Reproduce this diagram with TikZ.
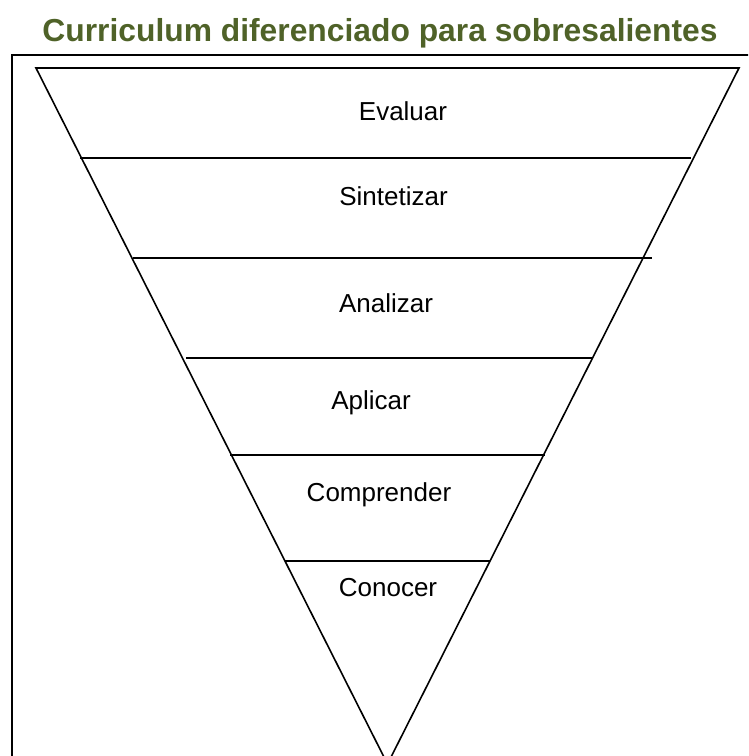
\documentclass[tikz,border=0pt]{standalone}
\usepackage{fontspec}
\setmainfont{Liberation Sans}
\usetikzlibrary{calc}
\definecolor{titlegreen}{RGB}{79,98,40}
\tikzstyle{level}=[anchor=base, inner sep=0pt, font=\fontsize{26}{30}\selectfont]
\tikzstyle{divider}=[line width=1.6pt]
\tikzstyle{funnel}=[line width=1.6pt, line join=miter]

\begin{document}
\begin{tikzpicture}[x=1pt,y=-1pt]
\useasboundingbox (0,0) rectangle (748,756);
\clip (0,0) rectangle (748,756);
% title
\node[anchor=base, inner sep=0pt, text=titlegreen, font=\fontsize{31.8}{36}\selectfont\bfseries] (title) at (380,41) {Curriculum diferenciado para sobresalientes};
% frame (runs off the page to the right and below)
\draw[line width=2.4pt] (12,790) -- (12,55) -- (790,55);
% funnel
\coordinate (TL) at (36,68);
\coordinate (TR) at (739,68);
\coordinate (Apex) at (387.5,764);
\draw[funnel] (TL) -- (TR) -- (Apex) -- cycle;
% dividers
\coordinate (L1) at (80,157.7);  \coordinate (R1) at (691,157.7);
\coordinate (L2) at (133,257.7); \coordinate (R2) at (652,257.7);
\coordinate (L3) at (186,358);   \coordinate (R3) at (592,358);
\coordinate (L4) at (230,455);   \coordinate (R4) at (545,455);
\coordinate (L5) at (285,561);   \coordinate (R5) at (490,561);
\foreach \i in {1,...,5}
  \draw[divider] (L\i) -- (R\i);
% levels
\node[level] (evaluar) at (403,120) {Evaluar};
\node[level] (sintetizar) at (393.5,205) {Sintetizar};
\node[level] (analizar) at (386,312) {Analizar};
\node[level] (aplicar) at (371,409) {Aplicar};
\node[level] (comprender) at (379,501) {Comprender};
\node[level] (conocer) at (388,596) {Conocer};
\end{tikzpicture}
\end{document}
